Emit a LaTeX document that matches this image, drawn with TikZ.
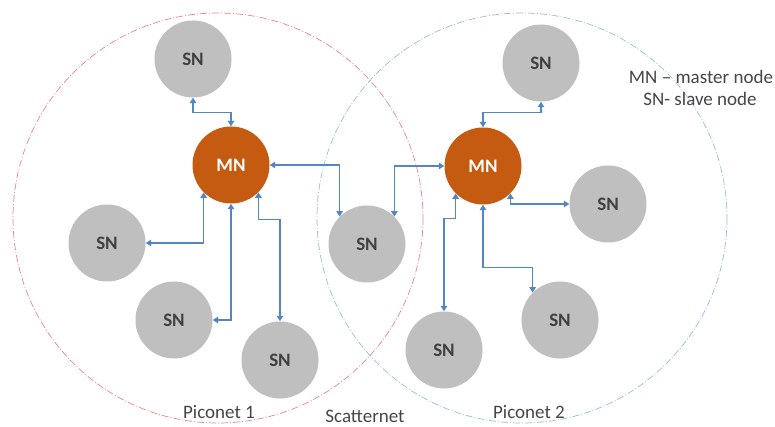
\documentclass[tikz,border=0pt]{standalone}
\usepackage{fontspec}
\setmainfont{Carlito}
\usetikzlibrary{arrows.meta}
\definecolor{mnfill}{RGB}{197,90,17}
\definecolor{snfill}{RGB}{191,191,191}
\definecolor{conncol}{RGB}{84,134,196}
\definecolor{pico1}{RGB}{235,130,145}
\definecolor{pico2}{RGB}{150,195,200}
\definecolor{sntext}{RGB}{64,64,64}
\definecolor{labtext}{RGB}{70,70,70}
\tikzset{
  snnode/.style={circle, fill=snfill, minimum size=77pt, inner sep=0pt,
    text=sntext, font=\fontsize{19}{22}\selectfont\bfseries},
  mnnode/.style={circle, fill=mnfill, minimum size=77pt, inner sep=0pt,
    text=white, font=\fontsize{19}{22}\selectfont\bfseries},
  conn/.style={draw=conncol, line width=1.3pt,
    {Triangle[length=5.5pt,width=6.5pt]}-{Triangle[length=5.5pt,width=6.5pt]}},
  piconet/.style={line width=0.7pt, dash pattern=on 7pt off 2pt on 1pt off 2pt},
  lab/.style={text=labtext, font=\fontsize{19}{22}\selectfont, anchor=base, inner sep=0pt}
}
\begin{document}
\begin{tikzpicture}[x=1pt,y=-1pt]
\path[fill=white, use as bounding box] (0,0) rectangle (775,427);
% piconet circles
\draw[piconet, draw=pico1] (218,218) circle[radius=205];
\draw[piconet, draw=pico2] (522,218) circle[radius=205];
% nodes
\node[snnode] (sn1) at (193,59) {SN};
\node[mnnode] (mn1) at (231,165) {MN};
\node[snnode] (snL) at (107,243) {SN};
\node[snnode] (snM) at (174,320) {SN};
\node[snnode] (snB) at (280,360) {SN};
\node[snnode] (scat) at (367,244) {SN};
\node[mnnode] (mn2) at (483,166) {MN};
\node[snnode] (snTR) at (541,63) {SN};
\node[snnode] (snR) at (608,204) {SN};
\node[snnode] (snBR) at (560,320) {SN};
\node[snnode] (snBL) at (444,350) {SN};
% connectors
\draw[conn] (sn1.south) -- ++(0,15) -| (mn1.north);
\draw[conn] (mn1.east) -| (scat.135);
\draw[conn] (mn2.west) -| (scat.45);
\draw[conn] (mn1.225) |- (snL.east);
\draw[conn] (mn1.south) |- (snM.east);
\draw[conn] (mn1.-45) -- ++(0,27) -| (snB.north);
\draw[conn] (mn2.north) -- ++(0,-15) -| (snTR.south);
\draw[conn] (mn2.-45) |- (snR.west);
\draw[conn] (mn2.south) -- ++(0,63) -| (snBR.135);
\draw[conn] (mn2.225) -- ++(0,25) -| (snBL.north);
% labels
\node[lab] (leg1) at (701,84) {MN – master node};
\node[lab] (leg2) at (700,106) {SN- slave node};
\node[lab] (p1) at (219,418) {Piconet 1};
\node[lab] (sc) at (365,422) {Scatternet};
\node[lab] (p2) at (529,418) {Piconet 2};
\end{tikzpicture}
\end{document}
